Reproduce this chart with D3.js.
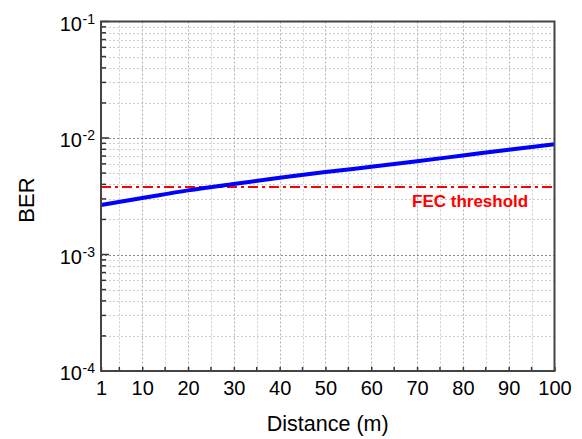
<!DOCTYPE html>
<html><head><meta charset="utf-8">
<script src="https://cdn.jsdelivr.net/npm/d3@7"></script>
<style>body{margin:0;background:#fff}svg{display:block}text{font-family:"Liberation Sans",Arial,sans-serif}</style>
</head><body>
<svg id="c" width="582" height="439"></svg>
<script>
const distance = [1,10,20,30,40,50,60,70,80,90,100];
const ber = [2.66e-3,3.05e-3,3.55e-3,4.03e-3,4.55e-3,5.10e-3,5.66e-3,6.31e-3,7.08e-3,7.94e-3,8.83e-3];
const fecThreshold = 3.8e-3;
const xTickLabels = [1,10,20,30,40,50,60,70,80,90,100];
const yTickExps = [-4,-3,-2,-1];

const svg = d3.select("#c");
const L=101, R=554.5, T=21.5, B=371;
const x = d3.scaleLinear().domain([1,100]).range([L,R]);
const y = d3.scaleLog().domain([1e-4,1e-1]).range([B,T]);

// grid
const g = svg.append("g");
const xGrid = d3.range(5,100,5);
g.selectAll(".vg").data(xGrid).enter().append("line")
  .attr("x1",d=>Math.round(x(d))+0.5).attr("x2",d=>Math.round(x(d))+0.5).attr("y1",T).attr("y2",B)
  .attr("stroke",d=>d%10===0?"#b0b0b0":"#cdcdcd").attr("stroke-width",1).attr("stroke-dasharray","2,2");
const yMinor=[], yMajor=[];
yTickExps.forEach(e=>{ if(e<-1){ for(let k=2;k<=9;k++) yMinor.push(k*Math.pow(10,e)); } yMajor.push(Math.pow(10,e)); });
g.selectAll(".hg").data(yMinor).enter().append("line")
  .attr("x1",L).attr("x2",R).attr("y1",d=>Math.round(y(d))+0.5).attr("y2",d=>Math.round(y(d))+0.5)
  .attr("stroke","#cdcdcd").attr("stroke-width",1).attr("stroke-dasharray","2,2");
g.selectAll(".hgm").data(yMajor.filter(d=>d>1e-4&&d<1e-1)).enter().append("line")
  .attr("x1",L).attr("x2",R).attr("y1",d=>Math.round(y(d))+0.5).attr("y2",d=>Math.round(y(d))+0.5)
  .attr("stroke","#8a8a8a").attr("stroke-width",1).attr("stroke-dasharray","2,2");

// FEC threshold
svg.append("line").attr("x1",L).attr("x2",R).attr("y1",y(fecThreshold)).attr("y2",y(fecThreshold))
  .attr("stroke","#ff0000").attr("stroke-width",2).attr("stroke-dasharray","10,4,3,4");
svg.append("text").attr("x",412).attr("y",207).attr("fill","#ff0000")
  .attr("font-size",17).attr("font-weight","bold").text("FEC threshold");

// data line
svg.append("path").datum(distance.map((d,i)=>[d,ber[i]]))
  .attr("fill","none").attr("stroke","#0000ff").attr("stroke-width",4)
  .attr("d",d3.line().x(d=>x(d[0])).y(d=>y(d[1])).curve(d3.curveMonotoneX));

// y ticks
const ticks = svg.append("g");
ticks.selectAll(".ytm").data(yMinor).enter().append("line")
  .attr("x1",L).attr("x2",L+5).attr("y1",d=>y(d)).attr("y2",d=>y(d)).attr("stroke","#333").attr("stroke-width",1.5);
ticks.selectAll(".ytM").data(yMajor).enter().append("line")
  .attr("x1",L).attr("x2",L+8).attr("y1",d=>y(d)).attr("y2",d=>y(d)).attr("stroke","#333").attr("stroke-width",1.5);

// x axis
const xAxis = d3.axisBottom(x).tickValues(xTickLabels).tickSize(-4).tickPadding(10).tickFormat(d3.format("d"));
const xa = svg.append("g").attr("transform",`translate(0,${B})`).call(xAxis);
xa.select(".domain").remove();
xa.selectAll("line").attr("stroke","#333").attr("stroke-width",1.5);
xa.selectAll("text").attr("font-size",20).attr("fill","#000").style("font-family",'"Liberation Sans",Arial,sans-serif');
svg.selectAll(".xtm").data(d3.range(5,100,10)).enter().append("line")
  .attr("x1",d=>x(d)).attr("x2",d=>x(d)).attr("y1",B).attr("y2",B-4).attr("stroke","#333").attr("stroke-width",1.5);

// y labels
yTickExps.forEach(e=>{
  const yy = y(Math.pow(10,e));
  svg.append("text").attr("x",82).attr("y",yy+9).attr("text-anchor","end").attr("font-size",20).text("10");
  svg.append("text").attr("x",82.5).attr("y",yy+2).attr("font-size",14).text(String(e));
});

// frame
svg.append("rect").attr("x",L).attr("y",T).attr("width",R-L).attr("height",B-T)
  .attr("fill","none").attr("stroke","#444").attr("stroke-width",2);

// titles
svg.append("text").attr("x",(L+R)/2).attr("y",431).attr("text-anchor","middle").attr("font-size",21.5).text("Distance (m)");
svg.append("text").attr("transform",`translate(33.5,200) rotate(-90)`).attr("text-anchor","middle").attr("font-size",22).text("BER");
</script>
</body></html>
